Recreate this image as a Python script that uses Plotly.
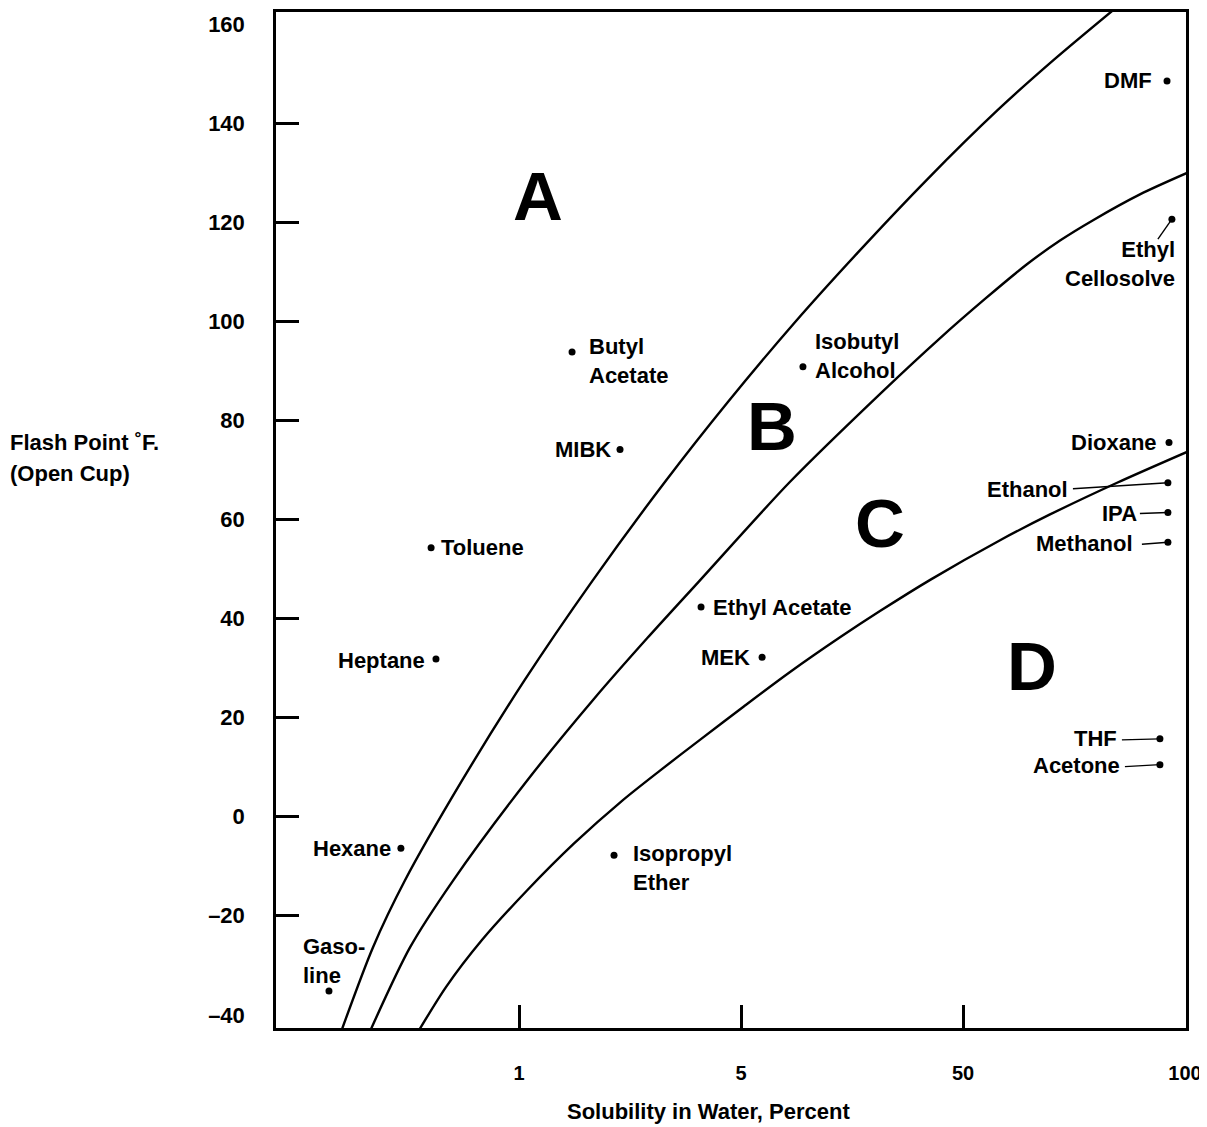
import plotly.graph_objects as go

# ---------------- data ----------------
# x is the position along the chart's (non-uniform) solubility axis:
# 1 % -> 1, 5 % -> 2, 50 % -> 3, 100 % -> 4
solvents = ["Gasoline", "Hexane", "Heptane", "Toluene", "MIBK", "Butyl Acetate",
            "Isopropyl Ether", "Ethyl Acetate", "MEK", "Isobutyl Alcohol", "DMF",
            "Ethyl Cellosolve", "Dioxane", "Ethanol", "IPA", "Methanol", "THF", "Acetone"]
solubility_pos = [0.144, 0.468, 0.626, 0.604, 1.455, 1.239,
                  1.428, 1.820, 2.095, 2.279, 3.919,
                  3.941, 3.928, 3.923, 3.923, 3.923, 3.887, 3.887]
flash_point_f = [-35.2, -6.4, 31.8, 54.3, 74.1, 93.8,
                 -7.8, 42.3, 32.2, 90.8, 148.5,
                 120.6, 75.5, 67.4, 61.4, 55.4, 15.7, 10.5]

x_tick_pos = [1, 2, 3, 4]
x_tick_text = ["1", "5", "50", "100"]
x_tick_marks = [1, 2, 3]
y_tick_vals = [-40, -20, 0, 20, 40, 60, 80, 100, 120, 140, 160]
y_tick_text = ["\u201340", "\u201320", "0", "20", "40", "60", "80", "100", "120", "140", "160"]
y_tick_marks = [-20, 0, 20, 40, 60, 80, 100, 120, 140]

boundary_ab_x = [0.185, 0.342, 0.486, 0.743, 1.023, 1.329, 1.658, 1.941, 2.243, 2.527, 2.838, 3.158, 3.410, 3.725]
boundary_ab_y = [-45.1, -26.4, -12.9, 7.25, 27.4, 47.5, 67.6, 83.7, 99.8, 113.9, 128.6, 142.7, 152.8, 164.6]
boundary_bc_x = [0.311, 0.509, 0.703, 1.036, 1.342, 1.577, 1.811, 2.221, 2.635, 2.892, 3.099, 3.288, 3.437, 3.586, 3.797, 4.023]
boundary_bc_y = [-45.1, -26.4, -12.9, 7.25, 24.0, 36.0, 47.5, 67.6, 85.7, 96.4, 104.5, 111.5, 116.3, 120.4, 125.6, 130.2]
boundary_cd_x = [0.523, 0.671, 0.833, 1.036, 1.248, 1.464, 1.635, 1.815, 2.014, 2.221, 2.446, 2.626, 2.856, 3.167, 3.392, 3.694, 4.023]
boundary_cd_y = [-45.1, -34.4, -24.9, -14.9, -5.4, 3.2, 9.3, 15.5, 22.3, 29.2, 36.2, 41.5, 47.9, 55.8, 61.0, 67.4, 73.9]

region_names = ["A", "B", "C", "D"]
region_x = [1.086, 2.140, 2.626, 3.311]
region_y = [125.2, 78.7, 59.2, 30.4]

# ---------------- label styling (pixel offsets from the dot) ----------------
label_layout = {
    "Gasoline": ("Gaso-<br>line", "left", -26, 30),
    "Hexane": ("Hexane", "right", -10, 0),
    "Heptane": ("Heptane", "right", -11, -1),
    "Toluene": ("Toluene", "left", 10, 0),
    "MIBK": ("MIBK", "right", -9, 0),
    "Butyl Acetate": ("Butyl<br>Acetate", "left", 17, -9),
    "Isopropyl Ether": ("Isopropyl<br>Ether", "left", 19, -13),
    "Ethyl Acetate": ("Ethyl Acetate", "left", 12, 0),
    "MEK": ("MEK", "right", -12, 0),
    "Isobutyl Alcohol": ("Isobutyl<br>Alcohol", "left", 12, 11),
    "DMF": ("DMF", "right", -15, 0),
    "Ethyl Cellosolve": ("Ethyl<br>Cellosolve", "right", 3, -45),
    "Dioxane": ("Dioxane", "right", -12, 0),
    "Ethanol": ("Ethanol", "right", -100, -7),
    "IPA": ("IPA", "right", -31, -1),
    "Methanol": ("Methanol", "right", -35, -1),
    "THF": ("THF", "right", -43, 0),
    "Acetone": ("Acetone", "right", -40, -1),
}
leader_ends = {"Ethyl Cellosolve": (-14, -20), "Ethanol": (-95, -6), "IPA": (-28, -1),
               "Methanol": (-26, -2), "THF": (-38, -1), "Acetone": (-35, -2)}

FONT = "Liberation Sans, Arial, Helvetica, sans-serif"
OFF = 8                      # page margin of the html body
W, H = 1199, 1119
ML, MR, MT, MB = 268, 21, 1, 99
plot_w = W - ML - MR
plot_h = H - MT - MB
X_RANGE = [-0.0946, 4.0045]
Y_RANGE = [-42.66, 162.42]


def paper_x(px):
    return (px - OFF - ML) / plot_w


def paper_y(py):
    return (H - MB - (py - OFF)) / plot_h


fig = go.Figure()

for bx, by in [(boundary_ab_x, boundary_ab_y), (boundary_bc_x, boundary_bc_y),
               (boundary_cd_x, boundary_cd_y)]:
    fig.add_trace(go.Scatter(x=bx, y=by, mode="lines",
                             line=dict(color="black", width=2.4, shape="spline", smoothing=0.8),
                             showlegend=False, hoverinfo="skip"))

fig.add_trace(go.Scatter(x=solubility_pos, y=flash_point_f, mode="markers",
                         marker=dict(color="black", size=7), text=solvents,
                         showlegend=False, hovertemplate="%{text}<extra></extra>"))

# dummy trace so the tick-only overlay axes are drawn
fig.add_trace(go.Scatter(x=[None], y=[None], xaxis="x2", yaxis="y2",
                         showlegend=False, hoverinfo="skip"))

annotations = []
shapes = []
for name, sx, sy in zip(solvents, solubility_pos, flash_point_f):
    txt, anchor, dx, dy = label_layout[name]
    annotations.append(dict(x=sx, y=sy, xref="x", yref="y", text=txt, showarrow=False,
                            xanchor=anchor, yanchor="middle", align=anchor,
                            xshift=dx, yshift=dy, borderpad=0, borderwidth=0,
                            font=dict(family=FONT, size=22, color="black", weight="bold")))
    if name in leader_ends:
        ex, ey = leader_ends[name]
        shapes.append(dict(type="line", xref="x", yref="y", xsizemode="pixel", ysizemode="pixel",
                           xanchor=sx, yanchor=sy, x0=0, y0=0, x1=ex, y1=ey,
                           line=dict(color="black", width=1.4)))

for rn, rx, ry in zip(region_names, region_x, region_y):
    annotations.append(dict(x=rx, y=ry, xref="x", yref="y", text=rn, showarrow=False,
                            xanchor="center", yanchor="middle", borderpad=0, borderwidth=0,
                            font=dict(family=FONT, size=69, color="black", weight="bold")))

# y-axis title (two lines, left aligned)
for txt, py in [("Flash Point \u02daF.", 441), ("(Open Cup)", 472)]:
    annotations.append(dict(x=paper_x(10), y=paper_y(py), xref="paper", yref="paper",
                            text=txt, showarrow=False, xanchor="left", yanchor="middle",
                            borderpad=0, borderwidth=0,
                            font=dict(family=FONT, size=22, color="black", weight="bold")))
# x-axis title
annotations.append(dict(x=paper_x(708), y=paper_y(1112), xref="paper", yref="paper",
                        text="Solubility in Water, Percent", showarrow=False,
                        xanchor="center", yanchor="middle", borderpad=0, borderwidth=0,
                        font=dict(family=FONT, size=22, color="black", weight="bold")))

fig.update_layout(
    width=W, height=H, autosize=False,
    margin=dict(l=ML, r=MR, t=MT, b=MB, pad=0),
    paper_bgcolor="white", plot_bgcolor="white",
    font=dict(family=FONT, color="black"),
    annotations=annotations, shapes=shapes,
    xaxis=dict(range=X_RANGE, tickmode="array", tickvals=x_tick_pos, ticktext=x_tick_text,
               ticks="", showline=True, linewidth=2.5, linecolor="black", mirror=True,
               showgrid=False, zeroline=False, ticklabelstandoff=25,
               tickfont=dict(family=FONT, size=20, color="black", weight="bold")),
    yaxis=dict(range=Y_RANGE, tickmode="array", tickvals=y_tick_vals, ticktext=y_tick_text,
               ticks="", showline=True, linewidth=2.5, linecolor="black", mirror=True,
               showgrid=False, zeroline=False, ticklabelstandoff=24,
               tickfont=dict(family=FONT, size=22, color="black", weight="bold")),
    xaxis2=dict(range=X_RANGE, overlaying="x", anchor="y2", side="bottom",
                tickmode="array", tickvals=x_tick_marks, ticks="inside", ticklen=23,
                tickwidth=2.5, tickcolor="black", showticklabels=False, showline=False,
                showgrid=False, zeroline=False),
    yaxis2=dict(range=Y_RANGE, overlaying="y", anchor="x2", side="left",
                tickmode="array", tickvals=y_tick_marks, ticks="inside", ticklen=23,
                tickwidth=2.5, tickcolor="black", showticklabels=False, showline=False,
                showgrid=False, zeroline=False),
)

fig.write_html("out.html")
